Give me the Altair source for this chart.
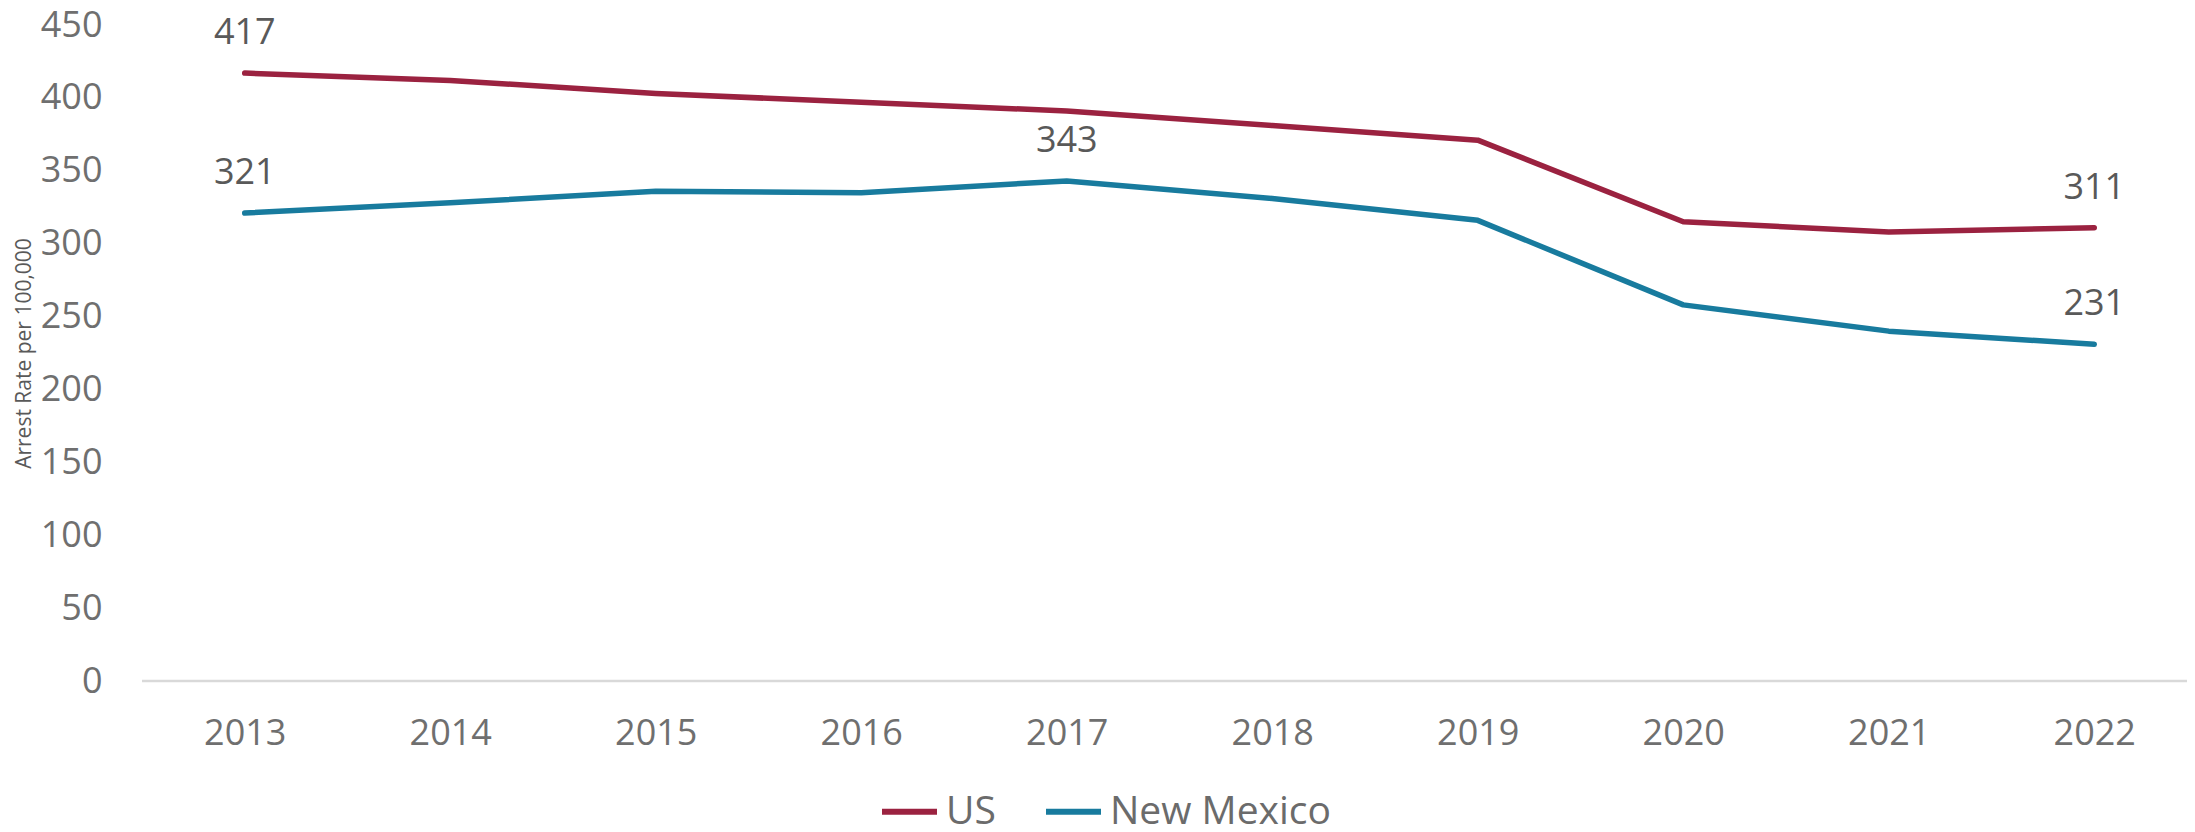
import altair as alt
import pandas as pd

years = ["2013", "2014", "2015", "2016", "2017", "2018", "2019", "2020", "2021", "2022"]
us_values = [417, 412, 403, 397, 391, 381, 371, 315, 308, 311]
nm_values = [321, 328, 336, 335, 343, 331, 316, 258, 240, 231]
series_names = ["US", "New Mexico"]
series_colors = ["#9B2240", "#187B9E"]
labelled_points = [("US", "2013"), ("US", "2022"), ("New Mexico", "2013"),
                   ("New Mexico", "2017"), ("New Mexico", "2022")]

rows = []
for name, vals in zip(series_names, [us_values, nm_values]):
    for y, v in zip(years, vals):
        rows.append({"Year": y, "Series": name, "Rate": v,
                     "Label": str(v) if (name, y) in labelled_points else ""})
df = pd.DataFrame(rows)

FONT = "Open Sans"
W, H = 2045, 656
STEP = 205.5

x_scale = alt.Scale(type="point", domain=years, padding=0,
                    range=[STEP / 2, STEP / 2 + 9 * STEP])
x_enc = alt.X("Year:N", sort=years, title=None, scale=x_scale,
              axis=alt.Axis(labelAngle=0, ticks=False, labelPadding=35, domain=False,
                            labelFontSize=36, labelColor="#6f6f6f", labelFont=FONT,
                            grid=False))
y_enc = alt.Y("Rate:Q", title="Arrest Rate per 100,000",
              scale=alt.Scale(domain=[0, 450], nice=False),
              axis=alt.Axis(values=list(range(0, 451, 50)), ticks=False, domain=False,
                            grid=False, labelPadding=40, labelFontSize=36,
                            labelColor="#6f6f6f", labelFont=FONT,
                            titleFont=FONT, titleFontSize=21, titleFontWeight="normal",
                            titleColor="#595959", titleX=-118, titleY=H / 2,
                            titleAngle=270, titleAlign="center", titleBaseline="middle"))
color_enc = alt.Color("Series:N", sort=series_names,
                      scale=alt.Scale(domain=series_names, range=series_colors),
                      legend=alt.Legend(title=None, orient="none", direction="horizontal",
                                        legendX=737, legendY=756, symbolType="stroke",
                                        symbolSize=3025, symbolStrokeWidth=6,
                                        labelFontSize=39, labelColor="#6b6b6b",
                                        labelFont=FONT, labelOffset=6, columnPadding=38,
                                        labelLimit=0))

baseline = alt.Chart(pd.DataFrame({"zero": [0]})).mark_rule(
    color="#d9d9d9", strokeWidth=2.5).encode(
    y=alt.Y("zero:Q", scale=alt.Scale(domain=[0, 450], nice=False)),
    x=alt.value(0), x2=alt.value(W))

lines = alt.Chart(df).mark_line(strokeWidth=5.5, strokeCap="round", strokeJoin="round").encode(
    x=x_enc, y=y_enc, color=color_enc)

labels = alt.Chart(df).mark_text(dy=-29, baseline="alphabetic", fontSize=36,
                                 font=FONT, color="#595959").encode(
    x=alt.X("Year:N", sort=years, scale=x_scale), y="Rate:Q", text="Label:N")

chart = alt.layer(baseline, lines, labels).properties(
    width=W, height=H,
    autosize=alt.AutoSizeParams(type="none"),
    padding={"left": 134, "top": 17, "right": 0, "bottom": 143},
).configure_view(stroke=None)

chart.save("out.html", embed_options={"renderer": "svg", "actions": False})
